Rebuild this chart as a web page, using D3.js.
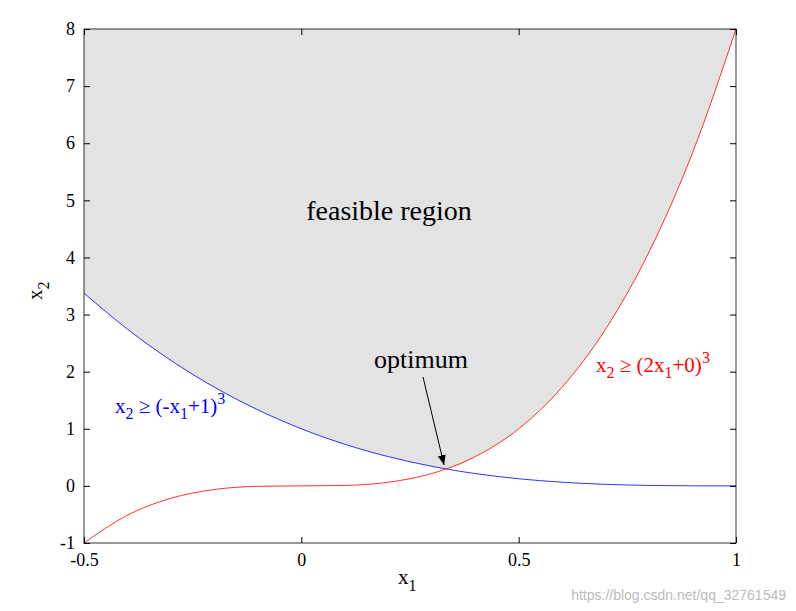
<!DOCTYPE html>
<html><head><meta charset="utf-8">
<script src="https://cdn.jsdelivr.net/npm/d3@7"></script>
<style>body{margin:0;background:#fff}text{font-family:"Liberation Serif","Times New Roman",serif}</style>
</head><body>
<svg width="796" height="611"></svg>
<script>
var xs = [-0.5,-0.4,-0.3,-0.2,-0.1,0,0.1,0.2,0.3,0.333,0.4,0.5,0.6,0.7,0.8,0.9,1];
var blueY = [3.375,2.744,2.197,1.728,1.331,1,0.729,0.512,0.343,0.296,0.216,0.125,0.064,0.027,0.008,0.001,0];
var redY = [-1,-0.512,-0.216,-0.064,-0.008,0,0.008,0.064,0.216,0.296,0.512,1,1.728,2.744,4.096,5.832,8];
var xTicks = [-0.5,0,0.5,1];
var yTicks = [-1,0,1,2,3,4,5,6,7,8];

var svg = d3.select("svg");
var x = d3.scaleLinear().domain([-0.5,1]).range([84,736]);
var y = d3.scaleLinear().domain([-1,8]).range([543,29]);

var defs = svg.append("defs");
defs.append("marker").attr("id","ah").attr("viewBox","0 0 10 10").attr("refX",10).attr("refY",5)
  .attr("markerWidth",10).attr("markerHeight",10).attr("orient","auto").attr("markerUnits","userSpaceOnUse")
  .append("path").attr("d","M0,1L10,5L0,9z").attr("fill","#000");

// feasible region: above max of both constraints
var upper = xs.map(function(d,i){return [d, Math.max(blueY[i], redY[i])];});
var area = d3.area().x(function(d){return x(d[0]);}).y0(y(8)).y1(function(d){return y(d[1]);}).curve(d3.curveMonotoneX);
svg.append("path").datum(upper).attr("d", area).attr("fill","#e3e3e3");

var line = d3.line().x(function(d){return x(d[0]);}).y(function(d){return y(d[1]);}).curve(d3.curveMonotoneX);
svg.append("path").datum(xs.map(function(d,i){return [d,blueY[i]];})).attr("d",line).attr("fill","none").attr("stroke","blue").attr("stroke-width",0.8);
svg.append("path").datum(xs.map(function(d,i){return [d,redY[i]];})).attr("d",line).attr("fill","none").attr("stroke","red").attr("stroke-width",0.8);

// box and ticks (matlab style, inward)
svg.append("rect").attr("x",84).attr("y",29).attr("width",652).attr("height",514).attr("fill","none").attr("stroke","#000").attr("stroke-width",0.8);
var ax = [
  svg.append("g").attr("transform","translate(0,543)").call(d3.axisBottom(x).tickValues(xTicks).tickSize(-6).tickPadding(10).tickFormat(function(d){return String(d);})),
  svg.append("g").attr("transform","translate(0,29)").call(d3.axisTop(x).tickValues(xTicks).tickSize(-6).tickFormat("")),
  svg.append("g").attr("transform","translate(84,0)").call(d3.axisLeft(y).tickValues(yTicks).tickSize(-6).tickPadding(9).tickFormat(function(d){return d<0?"-"+(-d):String(d);})),
  svg.append("g").attr("transform","translate(736,0)").call(d3.axisRight(y).tickValues(yTicks).tickSize(-6).tickFormat(""))
];
ax.forEach(function(g){g.select(".domain").remove();g.selectAll("text").attr("font-size",18).attr("font-family","Liberation Serif");});
ax[0].selectAll("text").text(function(d){return d<0?"-"+(-d):String(d);});

svg.append("text").attr("x",389).attr("y",220).attr("text-anchor","middle").attr("font-size",28).text("feasible region");
svg.append("text").attr("x",421).attr("y",368).attr("text-anchor","middle").attr("font-size",26).text("optimum");
svg.append("line").attr("x1",423).attr("y1",377).attr("x2",x(0.333)-2).attr("y2",y(0.296)-4).attr("stroke","#000").attr("marker-end","url(#ah)");

function label(tx, ty, col, parts){
  var t = svg.append("text").attr("x",tx).attr("y",ty).attr("fill",col).attr("font-size",21);
  parts.forEach(function(p){
    var s = t.append("tspan").text(p[0]);
    if(p[1]){ s.attr("dy",p[1]); }
    if(p[2]){ s.attr("font-size",p[2]); }
  });
}
label(115,413,"blue",[["x"],["2",6,16],[" ≥ (-x",-6],["1",6,16],["+1)",-6],["3",-9,16]]);
label(596,372,"red",[["x"],["2",6,16],[" ≥ (2x",-6],["1",6,16],["+0)",-6],["3",-9,16]]);
label(398,584,"#000",[["x"],["1",7,16]]);
svg.append("text").attr("transform","translate(42,300) rotate(-90)").attr("font-size",21)
  .call(function(t){t.append("tspan").text("x");t.append("tspan").attr("dy",7).attr("font-size",16).text("2");});

svg.append("text").attr("x",786).attr("y",600).attr("text-anchor","end").attr("fill","#bbb")
  .style("font-family","Liberation Sans, sans-serif").attr("font-size",14).text("https://blog.csdn.net/qq_32761549");
</script>
</body></html>
